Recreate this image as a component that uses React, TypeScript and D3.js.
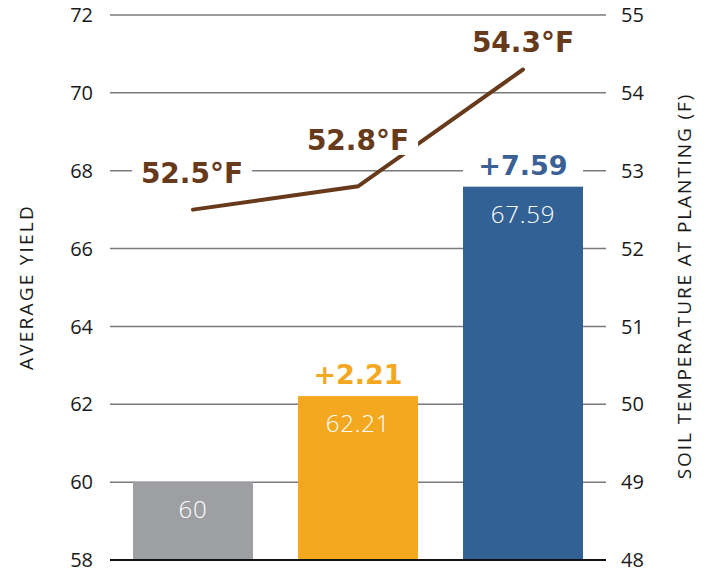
import React, { useEffect, useRef } from "react";
import * as d3 from "d3";

const categories = ["Baseline", "Treatment A", "Treatment B"];
const yieldValues = [60, 62.21, 67.59];
const yieldGainLabels = ["", "+2.21", "+7.59"];
const barValueLabels = ["60", "62.21", "67.59"];
const soilTemps = [52.5, 52.8, 54.3];
const tempLabels = ["52.5°F", "52.8°F", "54.3°F"];
const barColors = ["#9d9fa2", "#f3a81f", "#326195"];
const gainColors = ["#9d9fa2", "#f3a81f", "#3a6096"];
const leftTicks = [58, 60, 62, 64, 66, 68, 70, 72];
const rightTicks = [48, 49, 50, 51, 52, 53, 54, 55];

const W = 705;
const H = 570;
const FONT = "'Open Sans', 'DejaVu Sans', sans-serif";
const BOLD = "'DejaVu Sans', sans-serif";
const BROWN = "#673a1c";

export default function App() {
  const ref = useRef<SVGSVGElement | null>(null);

  useEffect(() => {
    const svg = d3.select(ref.current);
    svg.selectAll("*").remove();

    const top = 15, bottom = 560, left = 110, right = 606;
    const x = d3.scaleBand<string>().domain(categories).range([left, right])
      .paddingInner(0.2727).paddingOuter(0.1394);
    const yL = d3.scaleLinear().domain([58, 72]).range([bottom, top]);
    const yR = d3.scaleLinear().domain([48, 55]).range([bottom, top]);

    // gridlines
    svg.append("g").selectAll("line").data(leftTicks.filter(t => t !== 58)).join("line")
      .attr("x1", left).attr("x2", right)
      .attr("y1", d => yL(d)).attr("y2", d => yL(d))
      .attr("stroke", "#7a7a7a").attr("stroke-width", 1.5);

    // left tick labels
    svg.append("g").selectAll("text").data(leftTicks).join("text")
      .attr("x", 93).attr("y", d => yL(d)).attr("dy", "0.36em")
      .attr("text-anchor", "end").attr("font-family", FONT).attr("font-size", 20)
      .attr("font-weight", 400).attr("fill", "#1a1a1a").text(d => String(d));

    // right tick labels
    svg.append("g").selectAll("text").data(rightTicks).join("text")
      .attr("x", 621).attr("y", d => yR(d)).attr("dy", "0.36em")
      .attr("text-anchor", "start").attr("font-family", FONT).attr("font-size", 20)
      .attr("font-weight", 400).attr("fill", "#1a1a1a").text(d => String(d));

    // axis titles
    svg.append("text")
      .attr("transform", `translate(33,287) rotate(-90)`)
      .attr("text-anchor", "middle").attr("font-family", FONT).attr("font-size", 19)
      .attr("letter-spacing", 2.2)
      .attr("font-weight", 400).attr("fill", "#1a1a1a").text("AVERAGE YIELD");
    svg.append("text")
      .attr("transform", `translate(691,286) rotate(-90)`)
      .attr("text-anchor", "middle").attr("font-family", FONT).attr("font-size", 19)
      .attr("letter-spacing", 1.9)
      .attr("font-weight", 400).attr("fill", "#1a1a1a").text("SOIL TEMPERATURE AT PLANTING (F)");

    // bars
    svg.append("g").selectAll("rect").data(categories).join("rect")
      .attr("x", d => x(d)!).attr("width", x.bandwidth())
      .attr("y", (d, i) => yL(yieldValues[i])).attr("height", (d, i) => bottom - yL(yieldValues[i]))
      .attr("fill", (d, i) => barColors[i]);

    // bar value labels
    svg.append("g").selectAll("text").data(categories).join("text")
      .attr("x", d => x(d)! + x.bandwidth() / 2)
      .attr("y", (d, i) => yL(yieldValues[i]) + 36)
      .attr("text-anchor", "middle").attr("font-family", FONT).attr("font-size", 24)
      .attr("letter-spacing", 0.8)
      .attr("font-weight", 300).attr("fill", "#ffffff").text((d, i) => barValueLabels[i]);

    // gain labels with white background band
    categories.forEach((c, i) => {
      if (!yieldGainLabels[i]) return;
      const cx = x(c)! + x.bandwidth() / 2;
      const by = yL(yieldValues[i]) - 12;
      svg.append("rect").attr("x", x(c)!).attr("width", x.bandwidth())
        .attr("y", by - 26).attr("height", 32).attr("fill", "#fff");
      svg.append("text").attr("x", cx).attr("y", by)
        .attr("text-anchor", "middle").attr("font-family", BOLD).attr("font-size", 27)
        .attr("font-weight", 700).attr("fill", gainColors[i]).text(yieldGainLabels[i]);
    });

    // baseline
    svg.append("line").attr("x1", left).attr("x2", right).attr("y1", bottom).attr("y2", bottom)
      .attr("stroke", "#111").attr("stroke-width", 2);

    // temperature line
    const line = d3.line<number>()
      .x((d, i) => x(categories[i])! + x.bandwidth() / 2)
      .y(d => yR(d));
    svg.append("path").datum(soilTemps).attr("d", line)
      .attr("fill", "none").attr("stroke", BROWN).attr("stroke-width", 4)
      .attr("stroke-linecap", "round").attr("stroke-linejoin", "miter");

    // temperature labels
    const labelY = [183, 150, 52];
    categories.forEach((c, i) => {
      const cx = x(c)! + x.bandwidth() / 2 - (i === 0 ? 1 : 0);
      const g = svg.append("g");
      const rect = g.append("rect").attr("fill", "#fff");
      const t = g.append("text").attr("x", cx).attr("y", labelY[i])
        .attr("text-anchor", "middle").attr("font-family", BOLD).attr("font-size", 28)
        .attr("font-weight", 700).attr("fill", BROWN).text(tempLabels[i]);
      const bb = (t.node() as SVGTextElement).getBBox();
      rect.attr("x", bb.x - 9).attr("width", bb.width + 18)
        .attr("y", labelY[i] - 27).attr("height", 32);
    });
  }, []);

  return (
    <svg ref={ref} width={W} height={H}
      style={{ position: "absolute", left: 0, top: 0, background: "#fff" }} />
  );
}
